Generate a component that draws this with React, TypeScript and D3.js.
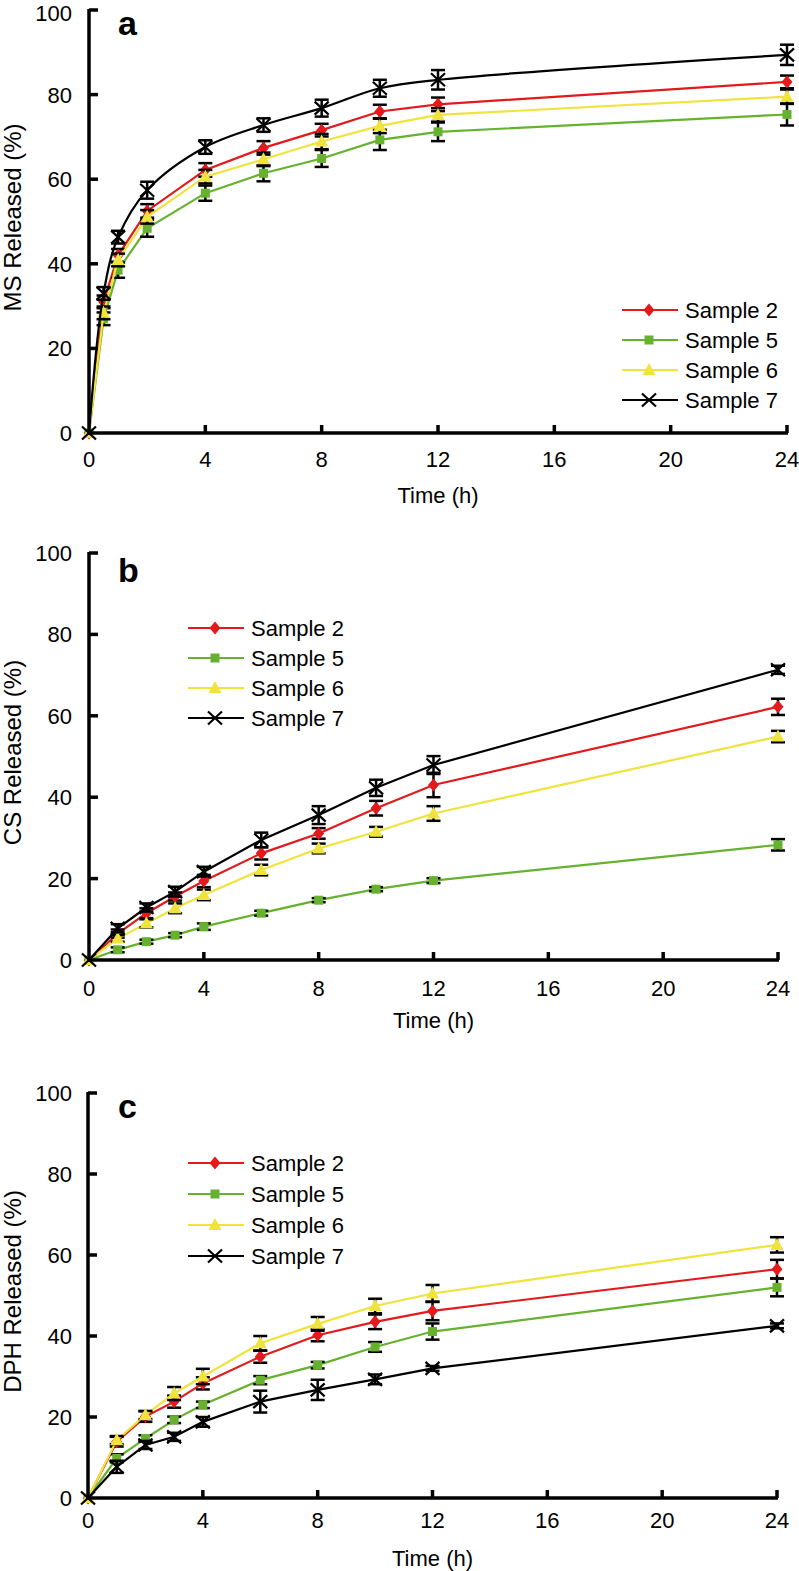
import React from "react";
import * as d3 from "d3";

// ---------- DATA ----------
const seriesNames = ["Sample 2", "Sample 5", "Sample 6", "Sample 7"];
const seriesColors = ["#e3191c", "#66b22e", "#efe33c", "#000000"];
const xTicks = [0, 4, 8, 12, 16, 20, 24];
const yTicks = [0, 20, 40, 60, 80, 100];

// Panel a: MS
const timesA = [0, 0.5, 1, 2, 4, 6, 8, 10, 12, 24];
const msS2 = [0, 31, 42, 52.5, 62.2, 67.4, 71.6, 76, 77.7, 83];
const msS5 = [0, 27, 38.5, 48.4, 56.7, 61.4, 64.9, 69.3, 71.2, 75.3];
const msS6 = [0, 28.4, 40.9, 51.1, 60.6, 64.7, 68.9, 72.6, 75.2, 79.5];
const msS7 = [0, 33, 46.3, 57.4, 67.6, 72.8, 76.8, 81.5, 83.5, 89.4];
const msE2 = [0, 1.5, 1.5, 1.6, 1.6, 1.6, 1.5, 1.6, 1.6, 1.5];
const msE5 = [0, 1.5, 1.8, 2, 1.8, 1.9, 2, 2.4, 2.2, 2.6];
const msE6 = [0, 1.5, 1.5, 1.6, 1.6, 1.6, 1.8, 1.7, 1.6, 1.7];
const msE7 = [0, 1.5, 1.5, 2, 1.6, 1.6, 2, 2, 2.3, 2.4];

// Panel b: CS
const timesB = [0, 1, 2, 3, 4, 6, 8, 10, 12, 24];
const csS2 = [0, 6.5, 11.5, 15.6, 19.4, 26.2, 31.1, 37.3, 43, 62.2];
const csS5 = [0, 2.5, 4.5, 6.1, 8.2, 11.5, 14.7, 17.4, 19.5, 28.3];
const csS6 = [0, 5.3, 9, 12.7, 16, 22.1, 27.4, 31.5, 36, 54.9];
const csS7 = [0, 7.8, 12.9, 16.8, 21.7, 29.5, 35.6, 42.3, 47.9, 71.3];
const csE2 = [0, 1, 1.2, 1, 1.5, 1.5, 1.3, 1.8, 3, 2];
const csE5 = [0, 0.6, 0.5, 0.5, 0.8, 0.6, 0.5, 0.5, 0.6, 1.4];
const csE6 = [0, 0.8, 1, 1.2, 1.3, 1.3, 1.2, 1.2, 1.8, 1.4];
const csE7 = [0, 1, 1, 1.2, 1.2, 1.8, 2.2, 2, 2.2, 1];

// Panel c: DPH
const timesC = [0, 1, 2, 3, 4, 6, 8, 10, 12, 24];
const dphS2 = [0, 13.9, 20.1, 23.8, 28.3, 34.9, 40.2, 43.5, 46.2, 56.5];
const dphS5 = [0, 9.8, 14.7, 19.3, 23, 29.1, 32.8, 37.3, 41.1, 52];
const dphS6 = [0, 14.3, 20.5, 25.8, 30, 38.2, 43, 47.4, 50.5, 62.5];
const dphS7 = [0, 7.7, 13.1, 15.1, 18.8, 23.8, 26.7, 29.3, 32, 42.5];
const dphE2 = [0, 1.2, 1.3, 1.5, 1.5, 1.5, 1.5, 1.8, 2.3, 2.3];
const dphE5 = [0, 1, 0.8, 0.8, 0.8, 1, 0.8, 1.2, 2, 2.2];
const dphE6 = [0, 1, 1, 1.6, 1.9, 1.8, 1.7, 1.8, 2.1, 1.9];
const dphE7 = [0, 1.5, 1, 1, 1.2, 2.7, 2.5, 1.2, 0.6, 0.6];

// ---------- LAYOUT ----------
const FONT = "'Liberation Sans', Arial, Helvetica, sans-serif";

type Panel = {
  letter: string;
  yLabel: string;
  times: number[];
  values: number[][];
  errors: number[][];
  smooth: boolean[];
  x0: number; x1: number; yTop: number; yBot: number;
  tickBase: number; titleBase: number; letterBase: number;
  legendX: number; legendY: number; legendStep: number;
};

const panels: Panel[] = [
  {
    letter: "a", yLabel: "MS Released (%)", times: timesA,
    values: [msS2, msS5, msS6, msS7], errors: [msE2, msE5, msE6, msE7],
    smooth: [false, false, false, true],
    x0: 89, x1: 787, yTop: 10, yBot: 433, tickBase: 467, titleBase: 503, letterBase: 35,
    legendX: 622, legendY: 310, legendStep: 30,
  },
  {
    letter: "b", yLabel: "CS Released (%)", times: timesB,
    values: [csS2, csS5, csS6, csS7], errors: [csE2, csE5, csE6, csE7],
    smooth: [false, false, false, false],
    x0: 89, x1: 778, yTop: 553, yBot: 960, tickBase: 996, titleBase: 1028, letterBase: 582,
    legendX: 188, legendY: 628, legendStep: 30,
  },
  {
    letter: "c", yLabel: "DPH Released (%)", times: timesC,
    values: [dphS2, dphS5, dphS6, dphS7], errors: [dphE2, dphE5, dphE6, dphE7],
    smooth: [false, false, false, false],
    x0: 88, x1: 777, yTop: 1093, yBot: 1498, tickBase: 1528, titleBase: 1566, letterBase: 1118,
    legendX: 188, legendY: 1163, legendStep: 31,
  },
];

function Marker({ kind, x, y, color }: { kind: number; x: number; y: number; color: string }) {
  if (kind === 0) {
    const p = d3.path();
    p.moveTo(x, y - 6.5); p.lineTo(x + 5.5, y); p.lineTo(x, y + 6.5); p.lineTo(x - 5.5, y); p.closePath();
    return <path d={p.toString()} fill={color} />;
  }
  if (kind === 1) {
    return <rect x={x - 4.5} y={y - 4.5} width={9} height={9} fill={color} />;
  }
  if (kind === 2) {
    const p = d3.path();
    p.moveTo(x, y - 7); p.lineTo(x + 6.5, y + 5); p.lineTo(x - 6.5, y + 5); p.closePath();
    return <path d={p.toString()} fill={color} />;
  }
  const p = d3.path();
  p.moveTo(x - 7, y - 6.5); p.lineTo(x + 7, y + 6.5);
  p.moveTo(x + 7, y - 6.5); p.lineTo(x - 7, y + 6.5);
  return <path d={p.toString()} stroke={color} strokeWidth={2.2} fill="none" />;
}

function PanelView({ pn }: { pn: Panel }) {
  const x = d3.scaleLinear().domain([0, 24]).range([pn.x0, pn.x1]);
  const y = d3.scaleLinear().domain([0, 100]).range([pn.yBot, pn.yTop]);
  const axisW = 3.5;
  return (
    <g fontFamily={FONT}>
      {/* series */}
      {pn.values.map((vals, si) => {
        const line = d3
          .line<number>()
          .x((_, i) => x(pn.times[i]))
          .y((v) => y(v))
          .curve(pn.smooth[si] ? d3.curveCatmullRom.alpha(0.5) : d3.curveLinear);
        return (
          <g key={si}>
            <path d={line(vals) || ""} fill="none" stroke={seriesColors[si]} strokeWidth={2.2} />
            {vals.map((v, i) => {
              const e = pn.errors[si][i];
              if (!e) return null;
              const cx = x(pn.times[i]);
              return (
                <g key={i} stroke="#000" strokeWidth={2.5}>
                  <line x1={cx} x2={cx} y1={y(v - e)} y2={y(v + e)} />
                  <line x1={cx - 7} x2={cx + 7} y1={y(v - e)} y2={y(v - e)} />
                  <line x1={cx - 7} x2={cx + 7} y1={y(v + e)} y2={y(v + e)} />
                </g>
              );
            })}
            {vals.map((v, i) => (
              <Marker key={i} kind={si} x={x(pn.times[i])} y={y(v)} color={seriesColors[si]} />
            ))}
          </g>
        );
      })}
      {/* axes */}
      <line x1={pn.x0} x2={pn.x0} y1={pn.yTop - 1} y2={pn.yBot + axisW / 2} stroke="#000" strokeWidth={axisW} />
      <line x1={pn.x0 - axisW / 2} x2={pn.x1 + 1} y1={pn.yBot} y2={pn.yBot} stroke="#000" strokeWidth={axisW} />
      {yTicks.map((t) => (
        <g key={t}>
          {t > 0 && <line x1={pn.x0} x2={pn.x0 + 9} y1={y(t)} y2={y(t)} stroke="#000" strokeWidth={3.5} />}
          <text x={72} y={Math.max(y(t) + 8, 20.5)} textAnchor="end" fontSize={22} fill="#000">{t}</text>
        </g>
      ))}
      {xTicks.map((t) => (
        <g key={t}>
          {t > 0 && <line x1={x(t)} x2={x(t)} y1={pn.yBot} y2={pn.yBot - 8} stroke="#000" strokeWidth={3.5} />}
          <text x={x(t)} y={pn.tickBase} textAnchor="middle" fontSize={22} fill="#000">{t}</text>
        </g>
      ))}
      <text x={(pn.x0 + pn.x1) / 2} y={pn.titleBase} textAnchor="middle" fontSize={22}>Time (h)</text>
      <text
        transform={`translate(21,${(pn.yTop + pn.yBot) / 2 - 4}) rotate(-90)`}
        textAnchor="middle"
        fontSize={24}
      >
        {pn.yLabel}
      </text>
      <text x={118} y={pn.letterBase} fontSize={34} fontWeight="bold">{pn.letter}</text>
      {/* legend */}
      {seriesNames.map((name, si) => {
        const ly = pn.legendY + si * pn.legendStep;
        return (
          <g key={name}>
            <line x1={pn.legendX} x2={pn.legendX + 56} y1={ly} y2={ly} stroke={seriesColors[si]} strokeWidth={2} />
            <Marker kind={si} x={pn.legendX + 27} y={ly} color={seriesColors[si]} />
            <text x={pn.legendX + 63} y={ly + 8} fontSize={22}>{name}</text>
          </g>
        );
      })}
    </g>
  );
}

export default function App() {
  return (
    <svg
      width={799}
      height={1571}
      style={{ position: "absolute", left: 0, top: 0, background: "#fff" }}
    >
      <rect width={799} height={1571} fill="#fff" />
      {panels.map((pn) => (
        <PanelView key={pn.letter} pn={pn} />
      ))}
    </svg>
  );
}
